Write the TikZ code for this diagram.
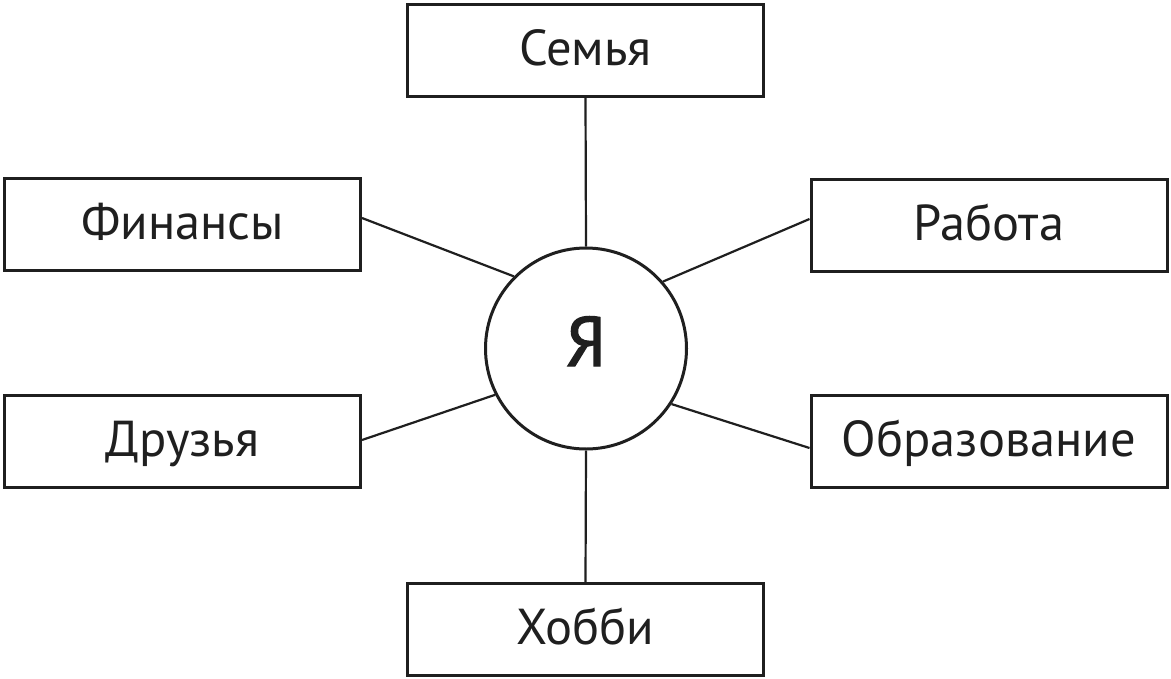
\documentclass[tikz,border=0pt]{standalone}
\usepackage{fontspec}
\setmainfont{PT Sans}
\newfontfamily\hubfont{PT Sans}[FakeBold=2]
\begin{document}
\begin{tikzpicture}[x=1pt,y=-1pt,
  box/.style={draw=black!88, line width=3pt, minimum width=356pt, minimum height=92pt,
    inner sep=0pt, font=\fontsize{50.5}{60}\selectfont, text=black!88,
    text height=30pt, text depth=0pt},
  hub/.style={circle, draw=black!88, line width=3pt, minimum size=201pt, inner sep=0pt,
    font=\hubfont\fontsize{70}{80}\selectfont, text=black!88},
  link/.style={draw=black!88, line width=2.2pt}]
\useasboundingbox (0,0) rectangle (1171,678);
\fill[white] (0,0) rectangle (1171,678);
\node[box] (fam) at (585.5,50) {Семья};
\node[box] (fin) at (182.5,224.5) {Финансы};
\node[box] (job) at (989,225) {Работа};
\node[box] (fri) at (182.5,441.5) {Друзья};
\node[box] (edu) at (989,441.5) {Образование};
\node[box] (hob) at (585.5,629.5) {Хобби};
\node[hub, text height=35pt, text depth=0pt] (me) at (586,348.5) {Я};
\draw[link] (fam.south) -- (me.north);
\draw[link] (hob.north) -- (me.south);
\draw[link] ([yshift=6.5pt]fin.east) -- (me.135);
\draw[link] ([yshift=6pt]job.west) -- (me.41);
\draw[link] ([yshift=1.5pt]fri.east) -- (me.207);
\draw[link] ([yshift=-6.5pt]edu.west) -- (me.327);
\end{tikzpicture}
\end{document}
